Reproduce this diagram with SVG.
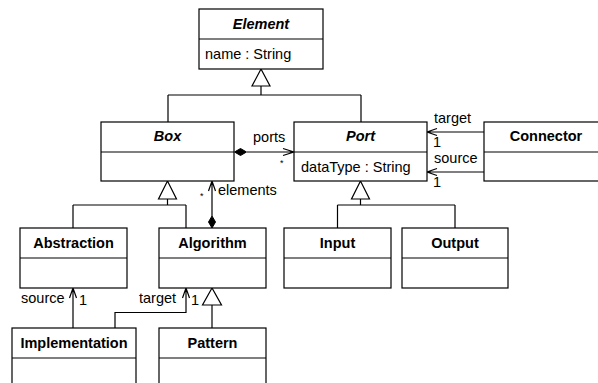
<svg xmlns="http://www.w3.org/2000/svg" width="598" height="383" viewBox="0 0 598 383">
  <style>
    .box { fill: #fff; stroke: #000; stroke-width: 1.2; }
    .div { stroke: #000; stroke-width: 1.2; }
    .name { font-family: "Liberation Sans", Arial, sans-serif; font-size: 14.5px; font-weight: bold; text-anchor: middle; }
    .abs { font-style: italic; }
    .attr { font-family: "Liberation Sans", Arial, sans-serif; font-size: 14.5px; }
    .lbl { font-family: "Liberation Sans", Arial, sans-serif; font-size: 14.5px; }
    .star { font-family: "Liberation Sans", Arial, sans-serif; font-size: 9px; }
    .line { fill: none; stroke: #000; stroke-width: 1.2; }
    .tri { fill: #fff; stroke: #000; stroke-width: 1.2; }
    .dia { fill: #000; stroke: #000; stroke-width: 1; }
  </style>
  <rect width="598" height="383" fill="#fff"/>

  <!-- connectors -->
  <g id="connectors">
    <!-- Element generalization -->
    <path class="line" d="M261 86 V95 M168 95 H361 M168 95 V122 M361 95 V122"/>
    <polygon class="tri" points="261,69 252,86 270,86"/>
    <!-- Box generalization -->
    <path class="line" d="M167.5 199 V205 M73 205 H186 M73 205 V228 M186 205 V228"/>
    <polygon class="tri" points="167.5,181 158.5,199 176.5,199"/>
    <!-- Port generalization -->
    <path class="line" d="M360.5 199 V205 M337.5 205 H455 M337.5 205 V228 M455 205 V228"/>
    <polygon class="tri" points="360.5,181 351.5,199 369.5,199"/>
    <!-- Box ports -->
    <path class="line" d="M247 152 H294 M283 148.5 L294 152 L283 155.5"/>
    <polygon class="dia" points="234.5,152 240.5,148.5 246.5,152 240.5,155.5"/>
    <text class="lbl" x="253" y="142">ports</text>
    <text class="star" x="280" y="166">*</text>
    <!-- Algorithm elements -->
    <path class="line" d="M212 216 V181 M208.5 191 L212 181 L215.5 191"/>
    <polygon class="dia" points="212,216 215.5,222 212,228 208.5,222"/>
    <text class="star" x="200" y="199">*</text>
    <text class="lbl" x="218" y="195">elements</text>
    <!-- Connector target / source -->
    <path class="line" d="M484 132 H427 M437 128.5 L427 132 L437 135.5"/>
    <text class="lbl" x="434" y="123">target</text>
    <text class="lbl" x="433" y="146.5">1</text>
    <path class="line" d="M484 172 H427 M437 168.5 L427 172 L437 175.5"/>
    <text class="lbl" x="434" y="163">source</text>
    <text class="lbl" x="433" y="186.5">1</text>
    <!-- Implementation source -->
    <path class="line" d="M73 328 V288 M69.5 298 L73 288 L76.5 298"/>
    <text class="lbl" x="21" y="303">source</text>
    <text class="lbl" x="79" y="305">1</text>
    <!-- Implementation target -->
    <path class="line" d="M115 328 V312.5 H186 V288 M182.5 298 L186 288 L189.5 298"/>
    <text class="lbl" x="139" y="303">target</text>
    <text class="lbl" x="191" y="305">1</text>
    <!-- Pattern generalization -->
    <path class="line" d="M212 305 V328"/>
    <polygon class="tri" points="212,288 202.5,305 221.5,305"/>
  </g>

  <g id="element">
    <rect class="box" x="199" y="9" width="124" height="60"/>
    <line class="div" x1="199" y1="39" x2="323" y2="39"/>
    <text class="name abs" x="261" y="28.5">Element</text>
    <text class="attr" x="205" y="59">name : String</text>
  </g>
  <g id="box">
    <rect class="box" x="101" y="122" width="133" height="59"/>
    <line class="div" x1="101" y1="152" x2="234" y2="152"/>
    <text class="name abs" x="167.5" y="141">Box</text>
  </g>
  <g id="port">
    <rect class="box" x="294" y="122" width="133" height="59"/>
    <line class="div" x1="294" y1="152" x2="427" y2="152"/>
    <text class="name abs" x="360.5" y="141">Port</text>
    <text class="attr" x="301" y="172">dataType : String</text>
  </g>
  <g id="connector">
    <rect class="box" x="484" y="122" width="124" height="59"/>
    <line class="div" x1="484" y1="152" x2="608" y2="152"/>
    <text class="name" x="546" y="141">Connector</text>
  </g>
  <g id="abstraction">
    <rect class="box" x="20" y="228" width="107" height="60"/>
    <line class="div" x1="20" y1="258" x2="127" y2="258"/>
    <text class="name" x="73.5" y="248">Abstraction</text>
  </g>
  <g id="algorithm">
    <rect class="box" x="159" y="228" width="107" height="60"/>
    <line class="div" x1="159" y1="258" x2="266" y2="258"/>
    <text class="name" x="212.5" y="248">Algorithm</text>
  </g>
  <g id="input">
    <rect class="box" x="284" y="228" width="107" height="60"/>
    <line class="div" x1="284" y1="258" x2="391" y2="258"/>
    <text class="name" x="337.5" y="248">Input</text>
  </g>
  <g id="output">
    <rect class="box" x="402" y="228" width="106" height="60"/>
    <line class="div" x1="402" y1="258" x2="508" y2="258"/>
    <text class="name" x="455" y="248">Output</text>
  </g>
  <g id="implementation">
    <rect class="box" x="12" y="328" width="124" height="70"/>
    <line class="div" x1="12" y1="358" x2="136" y2="358"/>
    <text class="name" x="74" y="348">Implementation</text>
  </g>
  <g id="pattern">
    <rect class="box" x="159" y="328" width="107" height="70"/>
    <line class="div" x1="159" y1="358" x2="266" y2="358"/>
    <text class="name" x="212.5" y="348">Pattern</text>
  </g>
</svg>
